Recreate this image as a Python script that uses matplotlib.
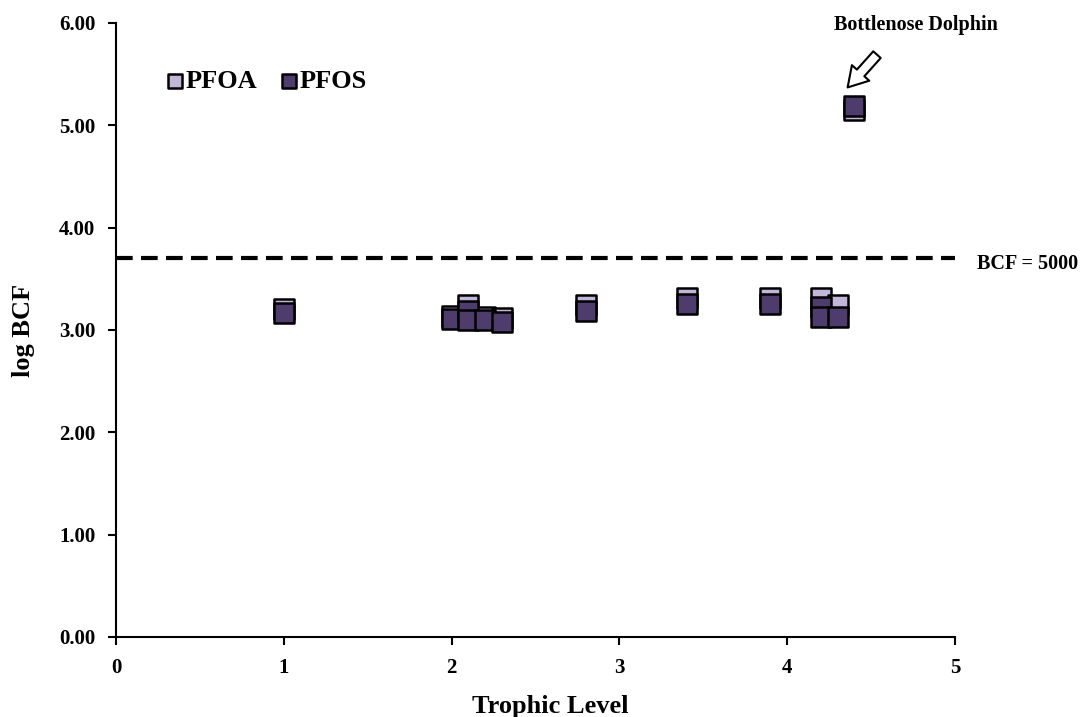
import numpy as np
import matplotlib
matplotlib.use("Agg")
import matplotlib.pyplot as plt

plt.rcParams['font.family'] = ['Liberation Serif', 'DejaVu Serif']
plt.rcParams['font.weight'] = 'bold'

# trophic level / log BCF
tl_pfoa = [1.0, 2.0, 2.1, 2.2, 2.3, 2.8, 3.4, 3.9, 4.2, 4.3, 4.4]
bcf_pfoa = [3.20, 3.14, 3.24, 3.13, 3.12, 3.24, 3.31, 3.31, 3.31, 3.24, 5.15]

tl_pfos = [1.0, 2.0, 2.1, 2.1, 2.2, 2.3, 2.8, 3.4, 3.9, 4.2, 4.2, 4.3, 4.4]
bcf_pfos = [3.17, 3.11, 3.19, 3.10, 3.10, 3.08, 3.19, 3.25, 3.25, 3.22, 3.13, 3.13, 5.19]

bcf_limit = np.log10(5000)

fig = plt.figure(figsize=(10.85, 7.17), dpi=100)
ax = fig.add_axes([0.1069, 0.1116, 0.7733, 0.8564])

ax.scatter(tl_pfoa, bcf_pfoa, s=210, marker='s', color='#c3b7d9',
           edgecolors='black', linewidths=1.8, zorder=3, label='PFOA')
ax.scatter(tl_pfos, bcf_pfos, s=210, marker='s', color='#4e3d6c',
           edgecolors='black', linewidths=1.8, zorder=4, label='PFOS')

ax.axhline(bcf_limit, color='black', linestyle=(0, (4, 2)), linewidth=3, zorder=2, clip_on=False)

ax.set_xlim(0, 5)
ax.set_ylim(0, 6)
ax.set_xticks(range(6))
ax.set_yticks(range(7))
ax.set_yticklabels(['%.2f' % v for v in range(7)])
ax.tick_params(direction='out', length=6, width=1.5, labelsize=15, pad=9)
for lab in ax.get_xticklabels() + ax.get_yticklabels():
    lab.set_fontweight('bold')
ax.spines['top'].set_visible(False)
ax.spines['right'].set_visible(False)
ax.spines['left'].set_linewidth(1.5)
ax.spines['bottom'].set_linewidth(1.5)

ax.set_xlabel('Trophic Level', fontsize=19, fontweight='bold')
ax.set_ylabel('log BCF', fontsize=19, fontweight='bold')
ax.xaxis.set_label_coords(0.518, -0.094)
ax.yaxis.set_label_coords(-0.097, 0.5)

ax.text(1.087, 3.64, 'BCF = 5000', transform=ax.get_yaxis_transform(),
        ha='center', va='center', fontsize=14.5, fontweight='bold')
ax.text(4.77, 5.98, 'Bottlenose Dolphin', ha='center', va='center',
        fontsize=14.5, fontweight='bold', clip_on=False)
ax.annotate('', xy=(4.36, 5.37), xytext=(4.535, 5.69),
            arrowprops=dict(arrowstyle='simple,head_length=0.35,head_width=0.42,tail_width=0.18',
                            mutation_scale=40, shrinkA=0, shrinkB=0,
                            facecolor='white', edgecolor='black', linewidth=1.5))

leg = ax.legend(loc='center left', bbox_to_anchor=(0.039, 0.905), ncol=2, frameon=False,
                prop={'size': 19, 'weight': 'bold'}, handletextpad=-0.2,
                columnspacing=0.6, markerscale=0.72, borderaxespad=0, handlelength=1.2)

fig.savefig('out.png', dpi=100)
